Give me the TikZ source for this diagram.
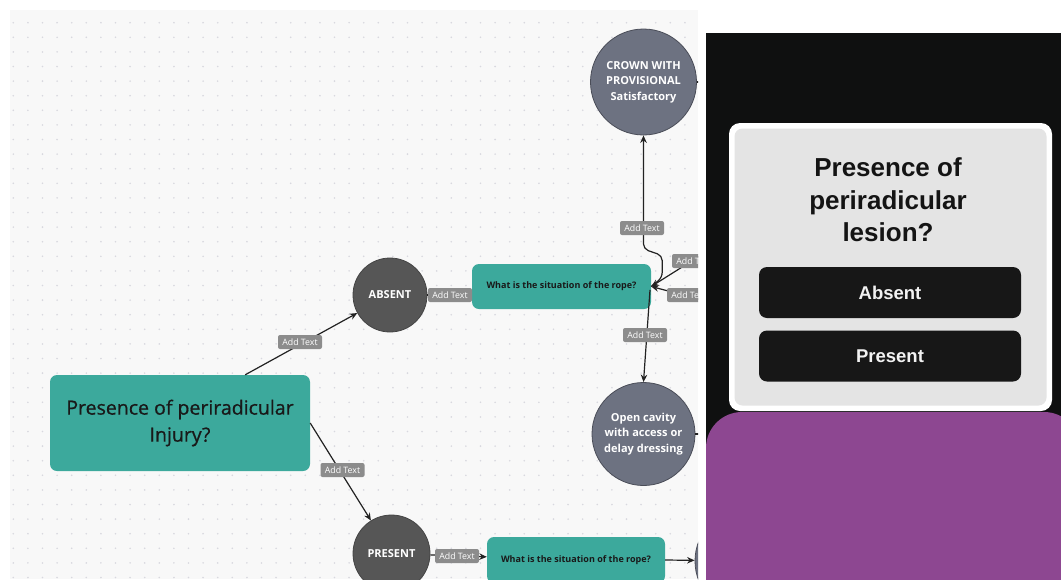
\documentclass[tikz,border=0pt]{standalone}
\usepackage{fontspec}
\setmainfont{Open Sans}
\newfontfamily\uifont{Liberation Sans}
\newfontfamily\headfont[FakeBold=0.7]{Open Sans}
\usetikzlibrary{arrows.meta}

\definecolor{canvasbg}{HTML}{F8F8F8}
\definecolor{griddot}{HTML}{D8D8DF}
\definecolor{flowteal}{HTML}{3CA99C}
\definecolor{darknode}{HTML}{565656}
\definecolor{darkedge}{HTML}{444444}
\definecolor{slatenode}{HTML}{6D7281}
\definecolor{slateedge}{HTML}{4A4D58}
\definecolor{tagbg}{HTML}{8C8C8C}
\definecolor{inkline}{HTML}{222222}
\definecolor{phoneblack}{HTML}{0F1010}
\definecolor{cardgrey}{HTML}{E4E4E4}
\definecolor{btnblack}{HTML}{171717}
\definecolor{plum}{HTML}{8D4791}

\tikzset{
  flowbox/.style={rectangle, rounded corners=7pt, fill=flowteal, text=black!90, align=center, inner sep=0pt},
  darkcircle/.style={circle, fill=darknode, draw=darkedge, line width=0.8pt, text=white, font=\bfseries\fontsize{11}{14}\selectfont, inner sep=0pt},
  slatecircle/.style={circle, fill=slatenode, draw=slateedge, line width=0.8pt, text=white, align=center, font=\bfseries\fontsize{11}{15.5}\selectfont, inner sep=0pt},
  tag/.style={rectangle, rounded corners=2pt, fill=tagbg, text=white, font=\fontsize{8.8}{10}\selectfont, minimum width=44pt, minimum height=14pt, inner sep=1pt},
  conn/.style={draw=inkline, line width=1.2pt, -{Stealth[length=7.5pt,width=6.5pt]}},
  plainconn/.style={draw=inkline, line width=1.2pt},
  uibtn/.style={rectangle, rounded corners=8pt, fill=btnblack, text=white!95!black, minimum width=262pt, minimum height=51pt, font=\uifont\bfseries\fontsize{18.5}{20}\selectfont}
}

\begin{document}
\begin{tikzpicture}[x=1pt, y=-1pt]
\useasboundingbox (0,0) rectangle (1061,579);
\fill[white] (0,0) rectangle (1061,579);

% ---------- flowchart canvas ----------
\begin{scope}
\clip (10,10) rectangle (698,579);
\fill[canvasbg] (10,10) rectangle (698,579);
\foreach \i in {0,...,46}
  \foreach \j in {0,...,38}
    \fill[griddot] ({13.3+14.6*\i},{22.7+14.6*\j}) circle (0.9);

% nodes
\node[flowbox, minimum width=260pt, minimum height=96pt, font=\headfont\fontsize{19.5}{27}\selectfont] (main) at (180,423) {Presence of periradicular\\Injury?};
\node[darkcircle, minimum size=74pt] (absent) at (390,295) {ABSENT};
\node[darkcircle, minimum size=77pt] (present) at (391.5,553.5) {PRESENT};
\node[flowbox, minimum width=179pt, minimum height=45pt, font=\bfseries\fontsize{9}{10}\selectfont] (rope1) at (561.5,286.5) {What is the situation of the rope?};
\node[flowbox, minimum width=178pt, minimum height=46pt, font=\bfseries\fontsize{9}{10}\selectfont] (rope2) at (576,560) {What is the situation of the rope?};
\node[slatecircle, minimum size=106pt] (crown) at (643.5,82) {CROWN WITH\\PROVISIONAL\\Satisfactory};
\node[slatecircle, minimum size=103pt] (cavity) at (643.5,434) {Open cavity\\with access or\\delay dressing};
\node[slatecircle, minimum size=106pt] (nextc) at (748,561) {};

% free ends and bends
\coordinate (mainup) at ([xshift=-65pt]main.north east);
\coordinate (bendC) at (0,249);
\coordinate (ropedown) at (650,290);
\coordinate (offA) at (706,252);
\coordinate (offB) at (706,301);

% connectors
\draw[conn] (mainup) -- (absent);
\draw[conn] (main.east) -- (present);
\draw[conn] (absent.east) -- (rope1.west |- absent.east);
\draw[conn, rounded corners=5pt] (rope1.east) -- ++(11,-9) -- ++(0,-22) -- (crown.south |- bendC) -- (crown.south);
\draw[conn] (ropedown) -- (cavity.north);
\draw[conn] (offA) -- (rope1.east);
\draw[conn] (offB) -- (rope1.east);
\draw[plainconn] (crown.east) -- ++(10,0);
\draw[plainconn] (cavity.east) -- ++(10,0);
\draw[conn] (present) -- (rope2);
\draw[conn] (rope2.east) -- (nextc);

% connector labels
\node[tag] (t1) at (300,342) {Add Text};
\node[tag] (t2) at (342.5,470) {Add Text};
\node[tag] (t3) at (450,295) {Add Text};
\node[tag] (t4) at (642,228) {Add Text};
\node[tag] (t5) at (645,335) {Add Text};
\node[tag] (t6) at (694,261) {Add Text};
\node[tag] (t7) at (689,295) {Add Text};
\node[tag] (t8) at (457,556) {Add Text};
\end{scope}

% ---------- phone screen ----------
\begin{scope}
\clip (706,33) rectangle (1061,579);
\fill[phoneblack] (706,33) rectangle (1061,579);
\fill[plum, rounded corners=36pt] (706,412) rectangle (1080,640);
\end{scope}
\fill[white, rounded corners=11pt] (729,123) rectangle (1052,411);
\fill[cardgrey, rounded corners=8pt] (734.5,128.5) rectangle (1046.5,405.5);
\node[font=\uifont\bfseries\fontsize{26}{32.5}\selectfont, text=black!92, align=center] (question) at (888,200) {Presence of\\periradicular\\lesion?};
\node[uibtn] (absbtn) at (890,292.5) {Absent};
\node[uibtn] (presbtn) at (890,356) {Present};
\end{tikzpicture}
\end{document}
